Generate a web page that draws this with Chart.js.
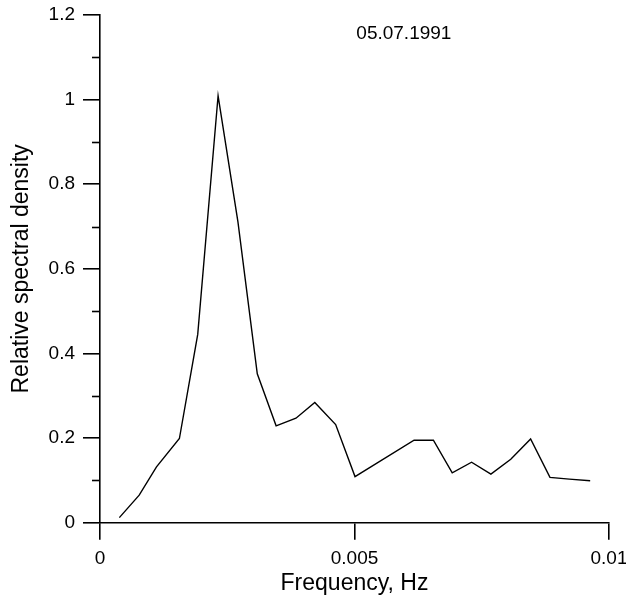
<!DOCTYPE html>
<html>
<head>
<meta charset="utf-8">
<script src="https://cdn.jsdelivr.net/npm/chart.js@4/dist/chart.umd.min.js"></script>
<style>
  html, body { margin: 0; padding: 0; background: #fff; }
  #wrap { width: 626px; height: 599px; }
</style>
</head>
<body>
<div id="wrap"><canvas id="spec"></canvas></div>
<script>
// spectrum 05.07.1991 (visible vertices only)
var freqHz = [0.00038, 0.00077, 0.00111, 0.00156, 0.00192, 0.00232, 0.00271, 0.00309,
  0.00346, 0.00385, 0.00422, 0.00463, 0.00501, 0.00617, 0.00655, 0.00692,
  0.00730, 0.00768, 0.00807, 0.00846, 0.00884, 0.00922, 0.00963];
var density = [0.012, 0.065, 0.132, 0.199, 0.445, 1.009, 0.711, 0.352,
  0.229, 0.247, 0.284, 0.232, 0.109, 0.195, 0.195, 0.118,
  0.143, 0.115, 0.150, 0.198, 0.107, 0.103, 0.099];

var xTicks = [0, 0.005, 0.01];
var yMajor = [0, 0.2, 0.4, 0.6, 0.8, 1.0, 1.2];
var yMinor = [0.1, 0.3, 0.5, 0.7, 0.9, 1.1];
var dateLabel = '05.07.1991';

var FONT = "Arial, 'Liberation Sans', sans-serif";

// short minor ticks on the y axis + the date label
var extras = {
  id: 'extras',
  afterDraw: function (chart) {
    var ctx = chart.ctx;
    var ys = chart.scales.y;
    ctx.save();
    ctx.strokeStyle = '#000';
    ctx.lineWidth = 1.6;
    yMinor.forEach(function (v) {
      var py = Math.round(ys.getPixelForValue(v)) + 0.5;
      ctx.beginPath();
      ctx.moveTo(ys.right - 8, py);
      ctx.lineTo(ys.right, py);
      ctx.stroke();
    });
    ctx.fillStyle = '#000';
    ctx.font = '19px ' + FONT;
    ctx.textAlign = 'center';
    ctx.textBaseline = 'middle';
    var area = chart.chartArea;
    ctx.fillText(dateLabel, area.left + (area.right - area.left) * 0.597, area.top + 19);
    ctx.restore();
  }
};

new Chart(document.getElementById('spec'), {
  type: 'line',
  data: {
    datasets: [{
      data: freqHz.map(function (f, i) { return { x: f, y: density[i] }; }),
      borderColor: '#000',
      borderWidth: 1.4,
      pointRadius: 0,
      tension: 0,
      fill: false
    }]
  },
  options: {
    responsive: true,
    maintainAspectRatio: false,
    animation: false,
    layout: { padding: { top: 15, right: 17, left: 0, bottom: 0 } },
    plugins: { legend: { display: false }, tooltip: { enabled: false } },
    scales: {
      x: {
        type: 'linear',
        min: 0, max: 0.01,
        afterBuildTicks: function (s) { s.ticks = xTicks.map(function (v) { return { value: v }; }); },
        afterFit: function (s) { s.height = 76.3; s.paddingLeft = 0; s.paddingRight = 0; },
        ticks: {
          color: '#000', font: { family: FONT, size: 19 }, padding: 8, maxRotation: 0,
          callback: function (v) { return String(+v.toFixed(4)); }
        },
        grid: { drawOnChartArea: false, tickLength: 17, color: '#000', lineWidth: 1.6 },
        border: { color: '#000', width: 1.6 },
        title: { display: true, text: 'Frequency, Hz', color: '#000', font: { family: FONT, size: 23 }, padding: { top: 0, bottom: 2 } }
      },
      y: {
        type: 'linear',
        min: 0, max: 1.2,
        afterBuildTicks: function (s) { s.ticks = yMajor.map(function (v) { return { value: v }; }); },
        afterFit: function (s) { s.width = 100; s.paddingTop = 0; s.paddingBottom = 0; },
        ticks: {
          color: '#000', font: { family: FONT, size: 19 }, padding: 8,
          callback: function (v) { return String(+v.toFixed(1)); }
        },
        grid: { drawOnChartArea: false, tickLength: 17, color: '#000', lineWidth: 1.6 },
        border: { color: '#000', width: 1.6 },
        title: { display: true, text: 'Relative spectral density', color: '#000', font: { family: FONT, size: 23 }, padding: { top: 8, bottom: 0 } }
      }
    }
  },
  plugins: [extras]
});
</script>
</body>
</html>
